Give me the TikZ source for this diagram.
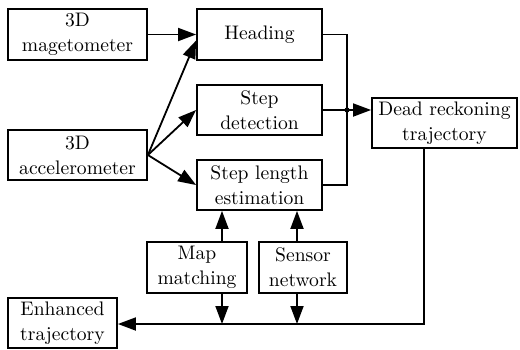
\documentclass[tikz,border=0pt]{standalone}
\usetikzlibrary{arrows.meta}
\begin{document}
\begin{tikzpicture}[x=0.5pt,y=-0.5pt,
  box/.style={draw, line width=0.9pt, inner sep=0pt, align=center,
    font=\fontsize{9.8}{12.5}\selectfont},
  conn/.style={line width=0.9pt},
  arr/.style={conn, -{Triangle[length=9pt,width=6.5pt]}}]
\useasboundingbox (0,0) rectangle (520,349);
\node[box, minimum width=69.5pt, minimum height=25.5pt] (mag) at (77.5,34.5) {3D\\magetometer};
\node[box, minimum width=69.5pt, minimum height=25pt] (acc) at (77.5,155) {3D\\accelerometer};
\node[box, minimum width=62.5pt, minimum height=25.5pt] (head) at (259.5,34.5) {Heading};
\node[box, minimum width=62.5pt, minimum height=25pt] (det) at (259.5,110) {Step\\detection};
\node[box, minimum width=62.5pt, minimum height=25pt] (len) at (259.5,185) {Step length\\estimation};
\node[box, minimum width=72.5pt, minimum height=25pt] (dr) at (444.5,123) {Dead reckoning\\trajectory};
\node[box, minimum width=50pt, minimum height=25.5pt] (map) at (197,267.5) {Map\\matching};
\node[box, minimum width=44pt, minimum height=25.5pt] (sen) at (303,267.5) {Sensor\\network};
\node[box, minimum width=54.5pt, minimum height=25pt] (enh) at (62.5,323) {Enhanced\\trajectory};
\coordinate (jx) at (347,109);
\coordinate (mx) at (222,324);
\coordinate (sx) at (297,324);
\coordinate (corner) at (424,324);
% inputs
\draw[arr] (mag.east) -- (head.west);
\draw[arr] (acc.east) -- ([yshift=-3pt]head.west);
\draw[arr] (acc.east) -- (det.west);
\draw[arr] (acc.east) -- (len.west);
% junction
\draw[conn] (head.east) -- (head.east -| jx) -- (len.east -| jx) -- (len.east);
\draw[arr] (det.east) -- (det.east -| dr.west);
\fill (det.east -| jx) circle (1.3pt);
% bottom
\draw[arr] (map.north -| mx) -- (len.south -| mx);
\draw[arr] (sen.north -| sx) -- (len.south -| sx);
\draw[arr] (map.south -| mx) -- (mx);
\draw[arr] (sen.south -| sx) -- (sx);
\draw[arr] (dr.south -| corner) -- (corner) -- (enh.east |- corner);
\end{tikzpicture}
\end{document}
